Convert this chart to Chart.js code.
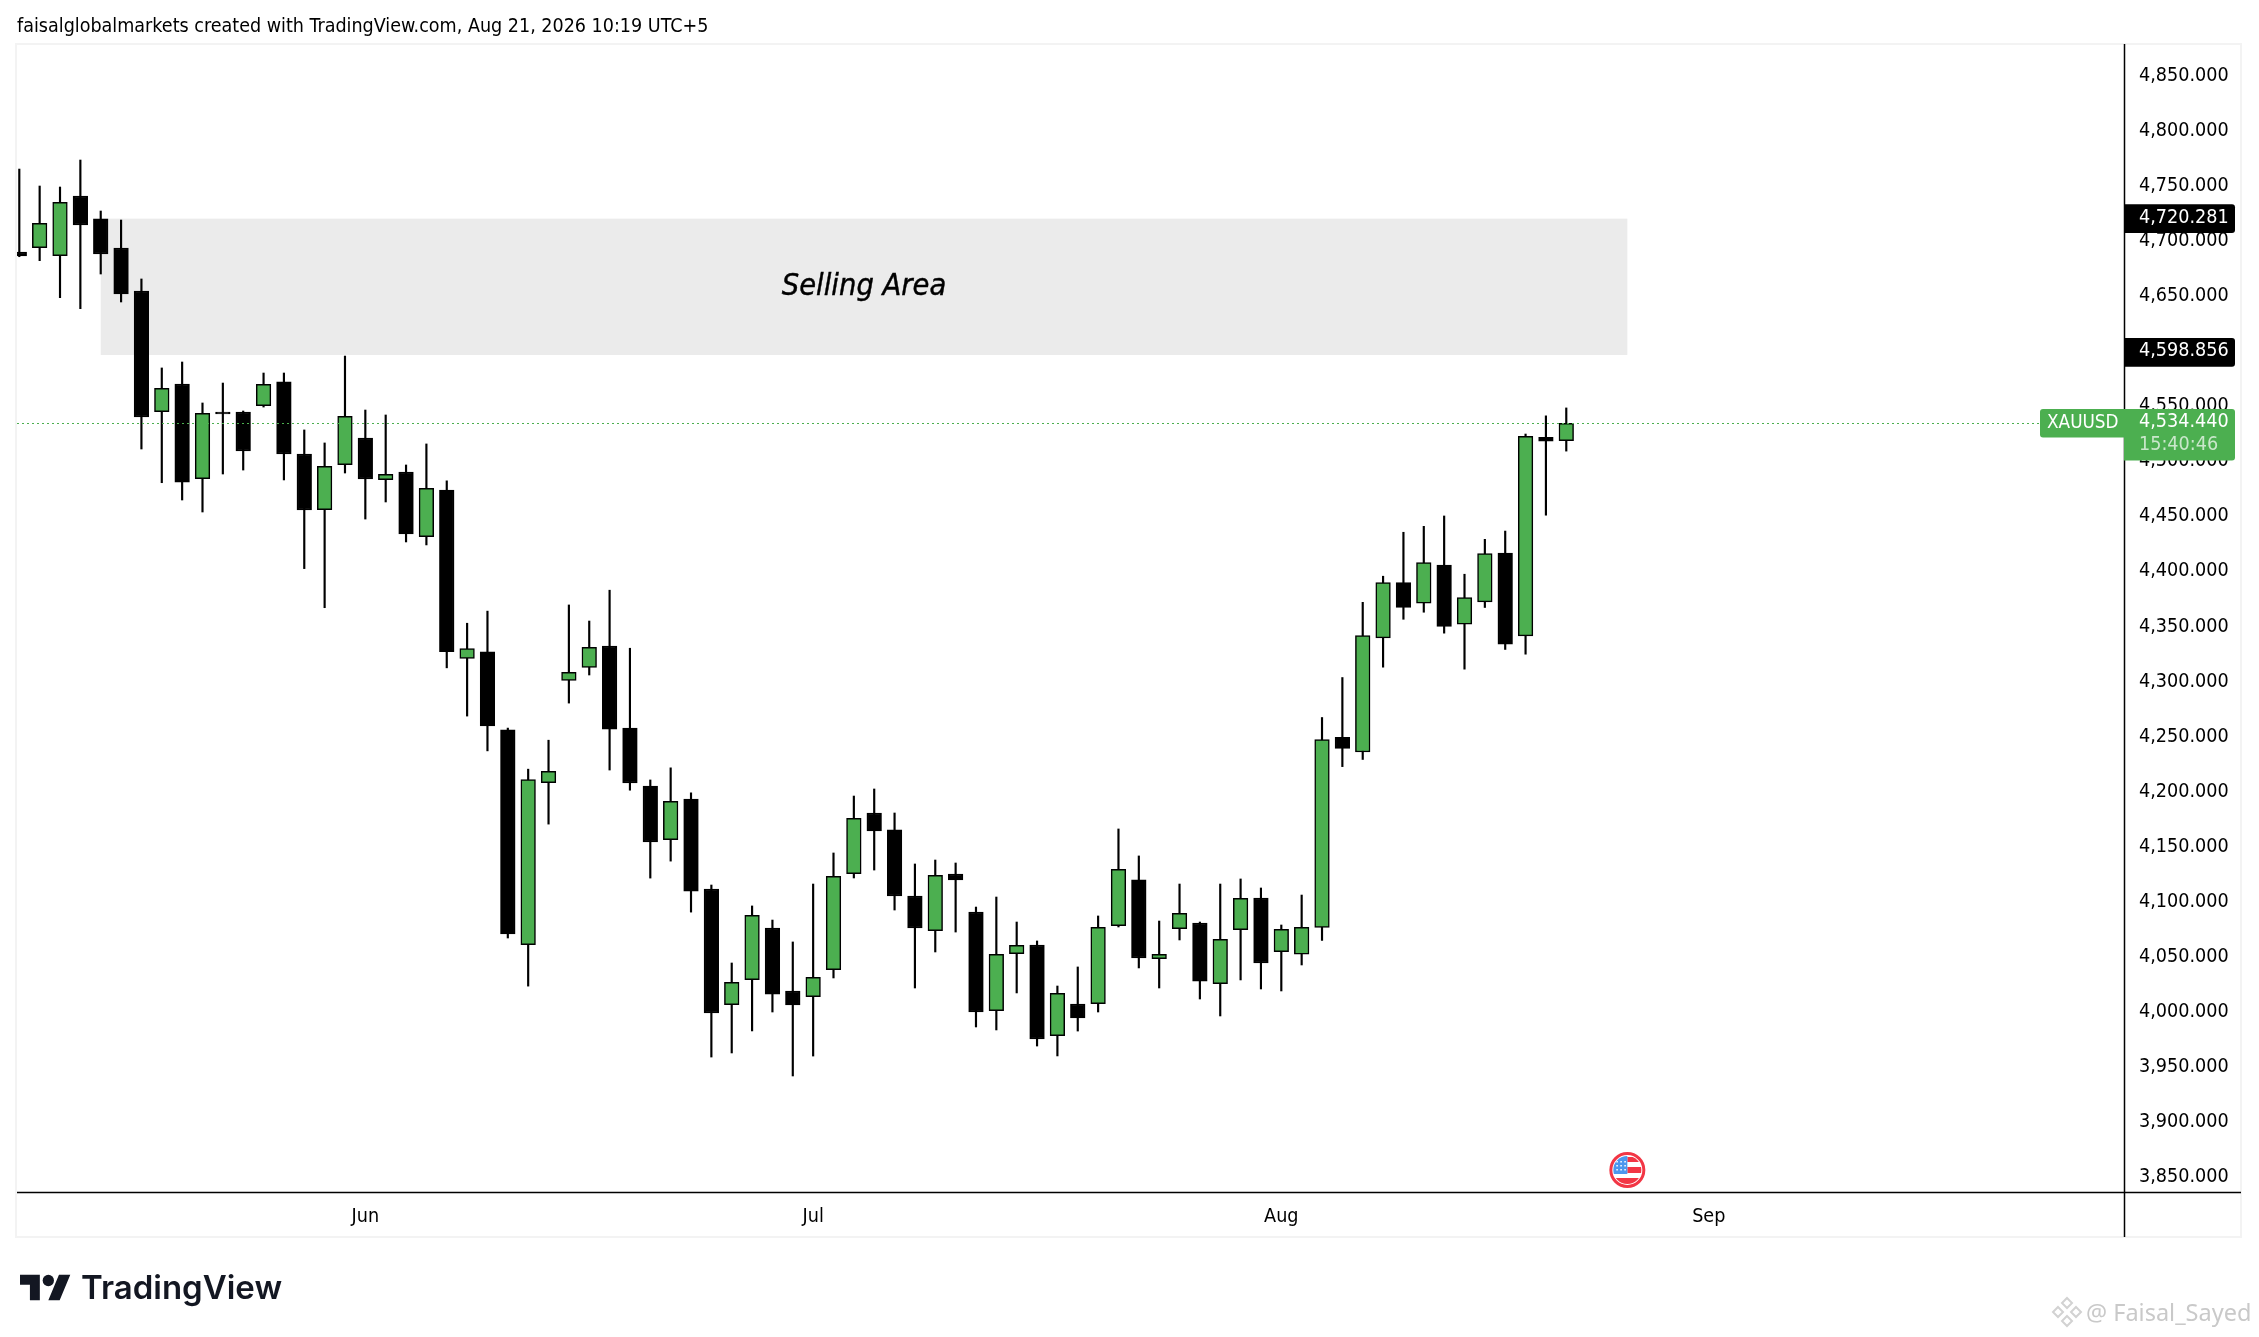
<!DOCTYPE html>
<html>
<head>
<meta charset="utf-8">
<title>XAUUSD</title>
<script src="https://cdn.jsdelivr.net/npm/chart.js@4"></script>
<style>
    html, body { margin: 0; padding: 0; background: #fff; }
    body { width: 2259px; height: 1337px; position: relative; overflow: hidden; }
    canvas { position: absolute; left: 0; top: 0; }
    .note { position: absolute; white-space: nowrap; font-family: "DejaVu Sans Condensed", "DejaVu Sans", sans-serif; }
    #header { left: 17px; top: 14px; font-size: 19.55px; color: #000; }
    #brand { left: 81px; top: 1267px; font-family: Inter, sans-serif; font-weight: 600; font-size: 33px; color: #131722; }
    #logo { position: absolute; left: 20px; top: 1269px; }
    #mark { left: 2086px; top: 1296px; font-family: "Noto Sans", sans-serif; font-size: 23.5px; color: #c9c9c9; }
</style>
</head>
<body>
<canvas id="chart" width="2259" height="1337"></canvas>
<div class="note" id="header">faisalglobalmarkets created with TradingView.com, Aug 21, 2026 10:19 UTC+5</div>
<svg id="logo" width="51" height="40" viewBox="0 0 36 28"><path fill="#131722" d="M14 22H7V11H0V4h14v18zM28 22h-8l7.5-18h8L28 22z"/><circle fill="#131722" cx="20" cy="8" r="4"/></svg>
<div class="note" id="brand">TradingView</div>
<div class="note" id="mark">@ Faisal_Sayed</div>
<script>
// daily candles
const opens = [4690.0,4693.9,4686.7,4740.8,4720.0,4693.6,4654.6,4545.0,4570.1,4484.2,4544.7,4544.7,4550.5,4572.0,4506.6,4456.0,4496.9,4521.1,4483.3,4490.2,4431.5,
    4473.7,4320.9,4327.0,4256.0,4061.1,4208.2,4301.0,4312.8,4332.2,4257.7,4205.0,4156.3,4193.2,4111.6,4006.6,4029.3,4076.2,4019.0,4013.8,4038.3,4125.5,4180.6,4165.2,4105.2,4073.8,4125.2,4090.7,4001.1,4052.9,4060.7,3978.4,4007.2,4007.5,4078.3,4119.8,4048.3,4075.6,4080.7,4025.6,4074.7,4103.4,4054.7,4052.3,4076.8,4249.3,4236.0,4339.6,4389.9,4371.2,4405.7,4352.1,4372.3,4416.5,4341.4,4521.8,4518.6];
const highs = [4765.3,4749.9,4749.0,4773.5,4727.2,4719.0,4665.5,4584.7,4590.1,4552.9,4571.0,4545.6,4580.1,4580.1,4528.4,4516.6,4595.5,4546.5,4542.0,4496.6,4515.7,
    4482.2,4352.9,4363.9,4257.7,4220.4,4246.7,4369.5,4354.9,4382.9,4330.2,4210.6,4221.6,4198.9,4115.2,4044.4,4096.2,4083.4,4063.5,4116.1,4144.3,4196.0,4202.4,4180.6,4134.3,4137.9,4135.2,4095.2,4104.3,4081.6,4064.4,4023.5,4040.8,4087.1,4166.1,4141.6,4082.5,4116.1,4081.6,4116.1,4120.7,4112.5,4078.9,4106.1,4267.3,4303.6,4371.9,4395.6,4435.5,4440.9,4450.3,4397.4,4429.1,4436.6,4524.7,4541.2,4548.4];
const lows = [4685.7,4682.1,4648.5,4638.5,4670.0,4644.6,4511.1,4480.5,4464.8,4453.9,4488.4,4492.0,4549.2,4483.0,4402.5,4367.0,4489.3,4447.5,4463.0,4426.7,4424.0,
    4312.4,4268.6,4237.0,4067.1,4023.4,4170.5,4280.4,4305.9,4219.6,4201.3,4121.5,4136.9,4090.6,3959.0,3962.7,3982.7,3999.9,3941.8,3959.9,4030.8,4121.6,4128.8,4092.5,4021.7,4054.4,4072.5,3986.3,3983.6,4017.2,3969.0,3960.0,3982.6,3999.9,4077.1,4039.9,4021.7,4065.3,4011.7,3996.3,4029.0,4020.8,4019.0,4042.6,4064.9,4222.7,4229.2,4313.0,4356.5,4362.9,4343.9,4311.2,4367.2,4329.1,4324.8,4451.0,4509.2];
const closes = [4686.4,4716.0,4735.1,4714.5,4688.2,4651.9,4540.2,4566.2,4481.1,4543.5,4542.9,4509.3,4569.8,4506.6,4455.7,4495.4,4540.8,4483.9,4488.1,4434.0,4475.4,
    4327.0,4329.8,4259.7,4070.8,4211.0,4218.4,4308.3,4331.0,4256.8,4207.8,4154.3,4191.2,4109.7,3999.0,4026.8,4087.7,4016.2,4006.3,4031.4,4123.1,4175.8,4164.3,4105.2,4076.2,4124.0,4119.8,3999.9,4052.3,4060.4,3975.4,4016.9,3994.5,4076.8,4129.4,4048.9,4052.3,4089.5,4028.0,4065.9,4103.1,4044.4,4075.0,4076.8,4247.2,4239.3,4341.7,4389.9,4367.2,4407.9,4350.0,4376.2,4416.1,4333.8,4522.5,4518.2,4534.44];

const priceTicks = [3850,3900,3950,4000,4050,4100,4150,4200,4250,4300,4350,4400,4450,4500,4550,4600,4650,4700,4750,4800,4850];
const monthLabels = ['Jun', 'Jul', 'Aug', 'Sep'];
const monthBars = [17, 39, 62, 83];

const zoneTop = 4720.281;
const zoneBottom = 4596.5;
const zoneFirstBar = 4;
const zoneLastBar = 79;
const zoneTitle = 'Selling Area';
const zoneTopLabel = '4,720.281';
const zoneBottomLabel = '4,598.856';
const lastPrice = 4534.44;
const lastPriceLabel = '4,534.440';
const countdownLabel = '15:40:46';
const symbolLabel = 'XAUUSD';
const eventBar = 79;

const GREEN = '#4CAF50';
const AXIS_FONT = '"DejaVu Sans Condensed", "DejaVu Sans", sans-serif';
const FRAME = { left: 17, top: 44, right: 2241, bottom: 1237, axisX: 2124, axisY: 1192 };

function roundBox(ctx, x, y, w, h, r, color) {
    ctx.fillStyle = color;
    ctx.beginPath();
    ctx.roundRect(x, y, w, h, r);
    ctx.fill();
}

function drawFlag(ctx, cx, cy) {
    ctx.save();
    ctx.beginPath();
    ctx.arc(cx, cy, 14, 0, Math.PI * 2);
    ctx.fillStyle = '#fff';
    ctx.fill();
    ctx.clip();
    ctx.fillStyle = '#F23645';
    ctx.fillRect(cx - 16, cy + 8, 32, 10);
    ctx.fillRect(cx, cy - 13, 16, 5);
    ctx.fillRect(cx, cy - 3, 16, 6);
    ctx.fillStyle = '#4C97EE';
    ctx.fillRect(cx - 16, cy - 14, 16, 18);
    ctx.fillStyle = '#fff';
    for (let row = 0; row < 3; row++) {
        for (let col = 0; col < 3; col++) {
            ctx.fillRect(cx - 11 + col * 4, cy - 9 + row * 4, 1.5, 1.5);
        }
    }
    ctx.restore();
    ctx.beginPath();
    ctx.arc(cx, cy, 16.5, 0, Math.PI * 2);
    ctx.lineWidth = 3;
    ctx.strokeStyle = '#F23645';
    ctx.stroke();
}

function drawWatermarkIcon(ctx, cx, cy) {
    ctx.strokeStyle = '#d2d2d2';
    ctx.lineWidth = 2;
    [[0, -9], [-9, 0], [9, 0], [0, 9]].forEach(([dx, dy]) => {
        ctx.beginPath();
        ctx.moveTo(cx + dx, cy + dy - 5);
        ctx.lineTo(cx + dx + 5, cy + dy);
        ctx.lineTo(cx + dx, cy + dy + 5);
        ctx.lineTo(cx + dx - 5, cy + dy);
        ctx.closePath();
        ctx.stroke();
    });
}

const decorations = {
    id: 'decorations',
    beforeDatasetsDraw(chart) {
        const { ctx, scales: { x, y } } = chart;
        const top = y.getPixelForValue(zoneTop);
        const bottom = y.getPixelForValue(zoneBottom);
        const left = x.getPixelForValue(zoneFirstBar);
        const right = x.getPixelForValue(zoneLastBar);
        ctx.save();
        ctx.fillStyle = '#EBEBEB';
        ctx.fillRect(left, top, right - left, bottom - top);
        ctx.fillStyle = '#000';
        ctx.strokeStyle = '#000';
        ctx.lineWidth = 0.4;
        ctx.font = 'italic 30.5px ' + AXIS_FONT;
        ctx.textAlign = 'center';
        ctx.textBaseline = 'middle';
        ctx.fillText(zoneTitle, (left + right) / 2, (top + bottom) / 2);
        ctx.strokeText(zoneTitle, (left + right) / 2, (top + bottom) / 2);
        ctx.restore();
    },
    afterDatasetsDraw(chart) {
        const { ctx, scales: { y } } = chart;
        const py = y.getPixelForValue(lastPrice);
        ctx.save();
        ctx.strokeStyle = GREEN;
        ctx.lineWidth = 1.2;
        ctx.setLineDash([2, 3]);
        ctx.beginPath();
        ctx.moveTo(FRAME.left, Math.round(py) + 0.5);
        ctx.lineTo(2040, Math.round(py) + 0.5);
        ctx.stroke();
        ctx.restore();
    },
    afterDraw(chart) {
        const { ctx, scales: { x, y } } = chart;
        ctx.save();
        // outer frame and the two axis lines
        ctx.strokeStyle = '#F3F3F3';
        ctx.lineWidth = 2;
        ctx.strokeRect(FRAME.left - 1, FRAME.top, FRAME.right - FRAME.left + 1, FRAME.bottom - FRAME.top);
        ctx.strokeStyle = '#000';
        ctx.lineWidth = 1.5;
        ctx.beginPath();
        ctx.moveTo(FRAME.axisX + 0.5, FRAME.top);
        ctx.lineTo(FRAME.axisX + 0.5, FRAME.bottom);
        ctx.moveTo(FRAME.left, FRAME.axisY + 0.5);
        ctx.lineTo(FRAME.right, FRAME.axisY + 0.5);
        ctx.stroke();

        // price labels sitting on the axis
        ctx.font = '19.6px ' + AXIS_FONT;
        ctx.textBaseline = 'middle';
        ctx.textAlign = 'left';
        const boxW = 111;
        [[zoneTopLabel, zoneTop], [zoneBottomLabel, 4598.856]].forEach(([text, value]) => {
            const py = y.getPixelForValue(value);
            roundBox(ctx, FRAME.axisX, py - 14.3, boxW, 28.6, [0, 3, 3, 0], '#000');
            ctx.fillStyle = '#fff';
            ctx.fillText(text, 2139, py - 1);
        });
        const py = y.getPixelForValue(lastPrice);
        roundBox(ctx, 2040, py - 14.3, 84, 28.6, [3, 0, 0, 3], GREEN);
        roundBox(ctx, FRAME.axisX, py - 14.3, boxW, 51.6, [0, 3, 3, 0], GREEN);
        ctx.fillStyle = '#fff';
        ctx.fillText(lastPriceLabel, 2139, py - 1);
        ctx.fillStyle = 'rgba(255,255,255,0.7)';
        ctx.fillText(countdownLabel, 2139, py + 22);
        ctx.fillStyle = '#fff';
        ctx.font = '18.8px ' + AXIS_FONT;
        ctx.fillText(symbolLabel, 2047, py);

        drawFlag(ctx, x.getPixelForValue(eventBar), 1170);
        drawWatermarkIcon(ctx, 2067, 1312);
        ctx.restore();
    }
};

const bars = opens.map((o, i) => i);

new Chart(document.getElementById('chart'), {
    type: 'bar',
    plugins: [decorations],
    data: {
        datasets: [
            {
                label: 'wick',
                order: 2,
                grouped: false,
                data: bars.map(i => ({ x: i, y: [lows[i], highs[i]] })),
                backgroundColor: '#000',
                borderWidth: 0,
                barThickness: 1.5
            },
            {
                label: 'body',
                order: 1,
                grouped: false,
                data: bars.map(i => ({ x: i, y: [opens[i], closes[i]] })),
                backgroundColor: bars.map(i => closes[i] >= opens[i] ? GREEN : '#000'),
                borderColor: '#000',
                borderWidth: 1.5,
                borderSkipped: false,
                barThickness: 14.6
            }
        ]
    },
    options: {
        responsive: false,
        animation: false,
        layout: { padding: { left: FRAME.left, top: FRAME.top, right: 2259 - FRAME.right, bottom: 1337 - FRAME.bottom } },
        plugins: { legend: { display: false }, tooltip: { enabled: false } },
        scales: {
            x: {
                type: 'linear',
                offset: false,
                min: -0.113,
                max: 103.4,
                grid: { display: false, drawTicks: false },
                border: { display: false },
                afterFit: s => { s.height = FRAME.bottom - FRAME.axisY; },
                afterBuildTicks: s => { s.ticks = monthBars.map(v => ({ value: v })); },
                ticks: {
                    autoSkip: false,
                    maxRotation: 0,
                    padding: 13,
                    color: '#000',
                    font: { family: AXIS_FONT, size: 19.6 },
                    callback: v => monthLabels[monthBars.indexOf(v)]
                }
            },
            y: {
                position: 'right',
                min: 3836.46,
                max: 4878.85,
                grid: { display: false, drawTicks: false },
                border: { display: false },
                afterFit: s => { s.width = FRAME.right - FRAME.axisX; },
                afterBuildTicks: s => { s.ticks = priceTicks.map(v => ({ value: v })); },
                ticks: {
                    autoSkip: false,
                    padding: 15,
                    color: '#000',
                    font: { family: AXIS_FONT, size: 19.6 },
                    callback: v => v.toLocaleString('en-US', { minimumFractionDigits: 3, maximumFractionDigits: 3 })
                }
            }
        }
    }
});
</script>
</body>
</html>
